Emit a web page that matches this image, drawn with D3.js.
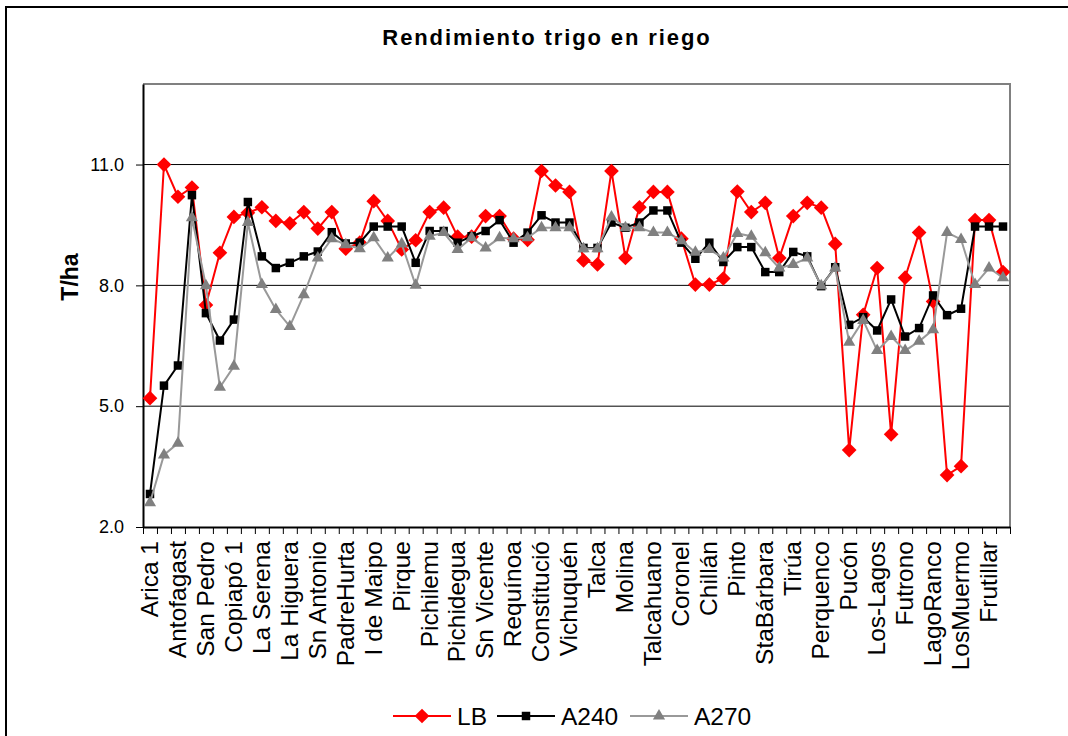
<!DOCTYPE html>
<html lang="es">
<head>
<meta charset="UTF-8">
<title>Rendimiento trigo en riego</title>
<script src="https://d3js.org/d3.v7.min.js"></script>
<style>
  body { margin: 0; background: #fff; }
  svg { display: block; font-family: "Liberation Sans", Arial, sans-serif; }
  .serie path.line { fill: none; stroke-width: 2px; }
  .grid line { stroke: #000; stroke-width: 1px; }
  .axis path, .axis line { stroke: #000; }
</style>
</head>
<body>
<svg width="1068" height="736"></svg>
<script>
// 62 localidades; solo se rotulan las de índice par (como en el original)
let nCat = 62;
let tickLabels = ["Arica 1", "Antofagast", "San Pedro", "Copiapó 1", "La Serena", "La Higuera",
  "Sn Antonio", "PadreHurta", "I de Maipo", "Pirque", "Pichilemu", "Pichidegua", "Sn Vicente",
  "Requínoa", "Constitució", "Vichuquén", "Talca", "Molina", "Talcahuano", "Coronel", "Chillán",
  "Pinto", "StaBárbara", "Tirúa", "Perquenco", "Pucón", "Los-Lagos", "Futrono", "LagoRanco",
  "LosMuermo", "Frutillar"];

let LB = [5.20, 11.0, 10.20, 10.43, 7.51, 8.81, 9.70, 9.80, 9.94, 9.60,
  9.54, 9.82, 9.41, 9.82, 8.91, 9.06, 10.09, 9.60, 8.89, 9.12,
  9.82, 9.93, 9.21, 9.21, 9.72, 9.72, 9.16, 9.13, 10.84, 10.48,
  10.32, 8.62, 8.52, 10.84, 8.68, 9.94, 10.32, 10.32, 9.16, 8.02,
  8.02, 8.17, 10.33, 9.82, 10.05, 8.68, 9.72, 10.05, 9.93, 9.03,
  3.91, 7.27, 8.43, 4.30, 8.19, 9.31, 7.60, 3.29, 3.51, 9.62,
  9.62, 8.33];
let A240 = [2.82, 5.51, 6.01, 10.24, 7.31, 6.63, 7.15, 10.07, 8.72, 8.43,
  8.56, 8.72, 8.84, 9.32, 9.04, 9.06, 9.46, 9.46, 9.46, 8.56,
  9.35, 9.35, 9.06, 9.22, 9.35, 9.62, 9.06, 9.31, 9.74, 9.56,
  9.56, 8.93, 8.93, 9.56, 9.43, 9.56, 9.86, 9.86, 9.06, 8.66,
  9.06, 8.58, 8.95, 8.95, 8.33, 8.33, 8.83, 8.72, 7.98, 8.45,
  7.02, 7.21, 6.88, 7.65, 6.73, 6.94, 7.75, 7.26, 7.42, 9.46,
  9.46, 9.46];
let A270 = [2.60, 3.79, 4.08, 9.68, 7.99, 5.47, 5.99, 9.56, 8.02, 7.40,
  6.98, 7.77, 8.68, 9.16, 9.01, 8.91, 9.18, 8.68, 9.03, 8.00,
  9.22, 9.31, 8.89, 9.18, 8.93, 9.18, 9.16, 9.18, 9.43, 9.43,
  9.43, 8.91, 8.91, 9.70, 9.43, 9.43, 9.31, 9.31, 9.11, 8.82,
  8.89, 8.68, 9.29, 9.22, 8.81, 8.43, 8.52, 8.68, 7.99, 8.43,
  6.59, 7.13, 6.38, 6.73, 6.38, 6.61, 6.90, 9.31, 9.14, 8.02,
  8.43, 8.19];
let yTicks = [2, 5, 8, 11];

// el rombo de Excel es un cuadrado girado 45°
let series = [
  {name: "LB", values: LB, line: "#ff0000", fill: "#ff0000", shape: d3.symbolSquare, size: 108, rot: 45},
  {name: "A240", values: A240, line: "#000000", fill: "#000000", shape: d3.symbolSquare, size: 72, rot: 0},
  {name: "A270", values: A270, line: "#999999", fill: "#808080", shape: d3.symbolTriangle, size: 64, rot: 0}
];

let svg = d3.select("svg");
let plot = {left: 143, right: 1010, top: 84, bottom: 527};

// marco exterior del gráfico
svg.append("rect").attr("x", 6).attr("y", 7).attr("width", 1100).attr("height", 800)
  .attr("fill", "none").attr("stroke", "#000").attr("stroke-width", 2);

svg.append("text").attr("x", 547).attr("y", 45).attr("text-anchor", "middle")
  .style("font-weight", "bold").style("font-size", "22px").style("letter-spacing", "1.9px")
  .text("Rendimiento trigo en riego");

let xScale = d3.scaleBand().domain(d3.range(nCat)).range([plot.left, plot.right]);
let xEdges = d3.scaleLinear().domain([0, nCat]).range([plot.left, plot.right]);
let yScale = d3.scaleLinear().domain([2, 13]).range([plot.bottom, plot.top]);
let cx = function (i) { return xScale(i) + xScale.bandwidth() / 2; };

// líneas de división
svg.append("g").attr("class", "grid").selectAll("line")
  .data(yTicks.slice(1)).join("line")
  .attr("x1", plot.left).attr("x2", plot.right)
  .attr("y1", function (d) { return yScale(d); }).attr("y2", function (d) { return yScale(d); });

// borde gris del área de trazado
svg.append("path")
  .attr("d", "M" + plot.left + "," + plot.top + "H" + plot.right + "V" + plot.bottom)
  .attr("fill", "none").attr("stroke", "#808080").attr("stroke-width", 2);

// eje Y
let yAxis = svg.append("g").attr("class", "axis")
  .attr("transform", "translate(" + plot.left + ",0)")
  .call(d3.axisLeft(yScale).tickValues(yTicks).tickSize(7).tickPadding(12)
    .tickFormat(d3.format(".1f")).tickSizeOuter(0));
yAxis.select(".domain").attr("stroke-width", 2);
yAxis.selectAll("text").style("font-size", "18px").attr("fill", "#000");

svg.append("text").attr("transform", "translate(78,277) rotate(-90)")
  .attr("text-anchor", "middle").style("font-weight", "bold").style("font-size", "23px")
  .text("T/ha");

// eje X: marcas entre categorías
let xTickAxis = svg.append("g").attr("class", "axis")
  .attr("transform", "translate(0," + plot.bottom + ")")
  .call(d3.axisBottom(xEdges).tickValues(d3.range(nCat + 1)).tickSize(7)
    .tickFormat("").tickSizeOuter(0));
xTickAxis.select(".domain").attr("stroke-width", 2);

// rótulos de categoría (índices pares)
let xLabelAxis = svg.append("g")
  .attr("transform", "translate(0," + plot.bottom + ")")
  .call(d3.axisBottom(xScale).tickValues(d3.range(0, nCat, 2)).tickSize(0)
    .tickFormat(function (d) { return tickLabels[d / 2]; }));
xLabelAxis.select(".domain").remove();
xLabelAxis.selectAll("text")
  .attr("transform", "rotate(-90)").attr("text-anchor", "end")
  .attr("x", -14).attr("y", 0).attr("dy", "0.32em")
  .style("font-size", "24.5px").attr("fill", "#000");

// series
let line = d3.line().x(function (d, i) { return cx(i); }).y(function (d) { return yScale(d); });
series.forEach(function (s) {
  let g = svg.append("g").attr("class", "serie");
  g.append("path").attr("class", "line").attr("d", line(s.values)).attr("stroke", s.line);
  g.selectAll("path.mk").data(s.values).join("path").attr("class", "mk")
    .attr("d", d3.symbol().type(s.shape).size(s.size))
    .attr("transform", function (d, i) {
      return "translate(" + cx(i) + "," + yScale(d) + ") rotate(" + s.rot + ")";
    })
    .attr("fill", s.fill);
});

// leyenda
let legendX = [393, 497, 630];
let legend = svg.append("g").attr("transform", "translate(0,716)");
series.forEach(function (s, k) {
  let g = legend.append("g").attr("transform", "translate(" + legendX[k] + ",0)");
  g.append("line").attr("x1", 0).attr("x2", 58).attr("stroke", s.line).attr("stroke-width", 2);
  g.append("path").attr("d", d3.symbol().type(s.shape).size(s.size))
    .attr("transform", "translate(29,0) rotate(" + s.rot + ")").attr("fill", s.fill);
  g.append("text").attr("x", 64).attr("dy", "0.36em").style("font-size", "24.5px").text(s.name);
});
</script>
</body>
</html>
